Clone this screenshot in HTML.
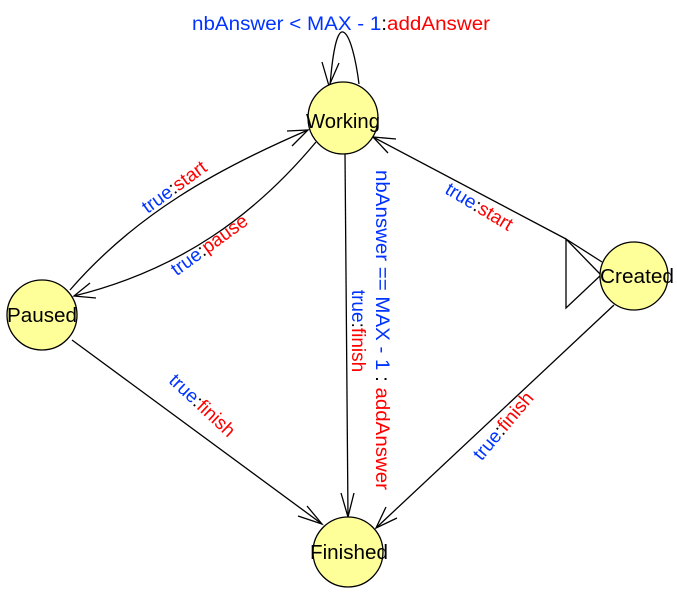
<!DOCTYPE html>
<html><head><meta charset="utf-8"><style>body{margin:0;background:#fff}svg{display:block}</style></head>
<body>
<svg width="677" height="604" viewBox="0 0 677 604" xmlns="http://www.w3.org/2000/svg" font-family="Liberation Sans, sans-serif" font-size="19">
<g stroke="#000" stroke-width="1.3" fill="none">
<path d="M330,86 C332,60 336,30 343,32 C350,34 356,60 359,84"/>
<path d="M322,62 L329,86 L339,63"/>
<path d="M70,290 C135,215 215,170 308,130"/>
<path d="M287,131 L308,130 L292,146"/>
<path d="M316,142 C255,215 180,270 74,296"/>
<path d="M90,283 L74,296 L96,298"/>
<path d="M345,153 L348,517"/>
<path d="M341,493 L348,517 L354,493"/>
<path d="M566,239 L373,137"/>
<path d="M396,139 L373,137 L388,153"/>
<path d="M566,239 L566,308 L601,275 Z"/>
<path d="M566,239 L602,262"/>
<path d="M614,305 L376,528"/>
<path d="M386,507 L376,528 L397,518"/>
<path d="M72,340 L322,524"/>
<path d="M307,506 L322,524 L298,516"/>
</g>
<g fill="#ffff99" stroke="#000" stroke-width="1.3">
<ellipse cx="343" cy="118" rx="35" ry="36"/>
<ellipse cx="42" cy="315" rx="35" ry="35"/>
<ellipse cx="634" cy="276" rx="34" ry="34"/>
<ellipse cx="348" cy="552" rx="35" ry="35"/>
</g>
<g fill="#000" text-anchor="middle" font-size="20">
<text x="343" y="128" textLength="74" lengthAdjust="spacingAndGlyphs">Working</text>
<text x="42" y="322" textLength="70" lengthAdjust="spacingAndGlyphs">Paused</text>
<text x="637" y="283" textLength="74" lengthAdjust="spacingAndGlyphs">Created</text>
<text x="349" y="559" textLength="78" lengthAdjust="spacingAndGlyphs">Finished</text>
</g>
<text x="341" y="30" text-anchor="middle" textLength="298" lengthAdjust="spacingAndGlyphs"><tspan fill="#0033ff">nbAnswer &lt; MAX - 1</tspan><tspan fill="#000">:</tspan><tspan fill="#ff0000">addAnswer</tspan></text>
<g text-anchor="middle">
<text transform="translate(178,192) rotate(-36)"><tspan fill="#0033ff">true</tspan><tspan fill="#000">:</tspan><tspan fill="#ff0000">start</tspan></text>
<text transform="translate(213,250) rotate(-36)"><tspan fill="#0033ff">true</tspan><tspan fill="#000">:</tspan><tspan fill="#ff0000">pause</tspan></text>
<text transform="translate(376,330) rotate(90)" textLength="320" lengthAdjust="spacingAndGlyphs"><tspan fill="#0033ff">nbAnswer == MAX - 1 </tspan><tspan fill="#000">: </tspan><tspan fill="#ff0000">addAnswer</tspan></text>
<text transform="translate(352,331) rotate(90)"><tspan fill="#0033ff">true</tspan><tspan fill="#000">:</tspan><tspan fill="#ff0000">finish</tspan></text>
<text transform="translate(476,212) rotate(31)"><tspan fill="#0033ff">true</tspan><tspan fill="#000">:</tspan><tspan fill="#ff0000">start</tspan></text>
<text transform="translate(198,410) rotate(43)"><tspan fill="#0033ff">true</tspan><tspan fill="#000">:</tspan><tspan fill="#ff0000">finish</tspan></text>
<text transform="translate(508,430) rotate(-50)"><tspan fill="#0033ff">true</tspan><tspan fill="#000">:</tspan><tspan fill="#ff0000">finish</tspan></text>
</g>
</svg>
</body></html>
